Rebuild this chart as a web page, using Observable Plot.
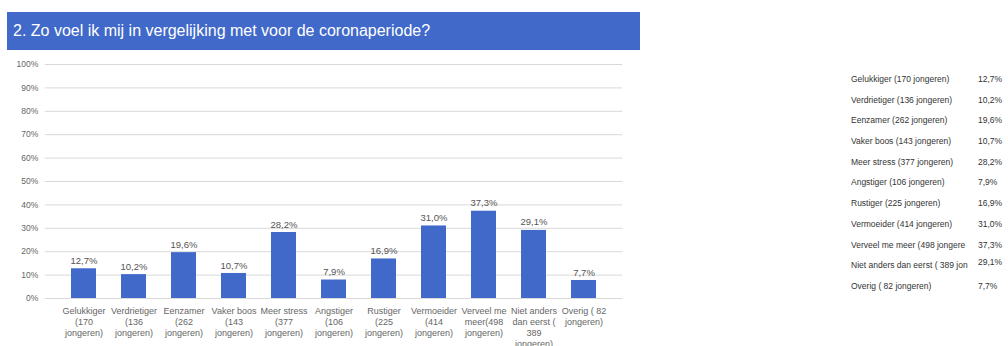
<!DOCTYPE html>
<html>
<head>
<meta charset="utf-8">
<script src="https://cdn.jsdelivr.net/npm/d3@7"></script>
<script src="https://cdn.jsdelivr.net/npm/@observablehq/plot@0.6"></script>
<style>
  html, body { margin: 0; padding: 0; background: #fff; }
  body { width: 1008px; height: 346px; overflow: hidden; position: relative; font-family: "Liberation Sans", Arial, sans-serif; }
  #title { position: absolute; left: 7px; top: 12px; width: 633px; height: 38px; background: #4169c9; color: #fff;
           font-size: 16px; line-height: 38px; padding-left: 6px; box-sizing: border-box; z-index: 2; }
  #chart { position: absolute; left: 0; top: 0; }
  #table { position: absolute; left: 851px; top: 72px; font-size: 8.5px; color: #333; }
  .row { position: relative; height: 20.7px; line-height: 14px; white-space: nowrap; }
  .row .lab { display: inline-block; width: 124px; overflow: hidden; vertical-align: top; }
  .row .val { position: absolute; left: 127px; top: 0; }
  .row.raised .val { top: -3px; }
</style>
</head>
<body>
<div id="title">2. Zo voel ik mij in vergelijking met voor de coronaperiode?</div>
<div id="chart"></div>
<div id="table"></div>
<script>
const categories = ["Gelukkiger", "Verdrietiger", "Eenzamer", "Vaker boos", "Meer stress", "Angstiger", "Rustiger", "Vermoeider", "Verveel me meer", "Niet anders dan eerst", "Overig"];
const counts = [170, 136, 262, 143, 377, 106, 225, 414, 498, 389, 82];
const values = [12.7, 10.2, 19.6, 10.7, 28.2, 7.9, 16.9, 31.0, 37.3, 29.1, 7.7];
const axisLabels = [
  "Gelukkiger\n(170\njongeren)",
  "Verdrietiger\n(136\njongeren)",
  "Eenzamer\n(262\njongeren)",
  "Vaker boos\n(143\njongeren)",
  "Meer stress\n(377\njongeren)",
  "Angstiger\n(106\njongeren)",
  "Rustiger\n(225\njongeren)",
  "Vermoeider\n(414\njongeren)",
  "Verveel me\nmeer(498\njongeren)",
  "Niet anders\ndan eerst (\n389\njongeren)",
  "Overig ( 82\njongeren)"
];
const tableLabels = [
  "Gelukkiger (170 jongeren)",
  "Verdrietiger (136 jongeren)",
  "Eenzamer (262 jongeren)",
  "Vaker boos (143 jongeren)",
  "Meer stress (377 jongeren)",
  "Angstiger (106 jongeren)",
  "Rustiger (225 jongeren)",
  "Vermoeider (414 jongeren)",
  "Verveel me meer (498 jongere",
  "Niet anders dan eerst ( 389 jon",
  "Overig ( 82 jongeren)"
];
const yTicks = [0, 10, 20, 30, 40, 50, 60, 70, 80, 90, 100];

const data = categories.map((c, i) => ({cat: c, n: counts[i], v: values[i], axis: axisLabels[i]}));
const fmt = v => v.toFixed(1).replace(".", ",") + "%";

const chart = Plot.plot({
  width: 640,
  height: 346,
  marginLeft: 44.75,
  marginRight: 17.75,
  marginTop: 64,
  marginBottom: 48,
  style: {fontFamily: "Liberation Sans, Arial, sans-serif", background: "transparent"},
  x: {domain: categories, padding: 0.5, label: null, tickSize: 0, tickPadding: 6,
      tickFormat: d => axisLabels[categories.indexOf(d)]},
  y: {domain: [0, 100], ticks: yTicks, label: null, tickSize: 0, tickPadding: 7,
      tickFormat: d => d + "%"},
  marks: [
    Plot.gridY(yTicks, {stroke: "#d9d9d9", strokeOpacity: 1, strokeWidth: 1}),
    Plot.barY(data, {x: "cat", y: "v", fill: "#4169c9"}),
    Plot.text(data, {x: "cat", y: "v", text: d => fmt(d.v), dy: -8, fontSize: 9.5, fill: "#555"}),
    Plot.axisX({tickSize: 0, tickPadding: 7, fontSize: 9, fill: "#666", lineHeight: 1.25,
                tickFormat: d => axisLabels[categories.indexOf(d)], label: null}),
    Plot.axisY({ticks: yTicks, tickSize: 0, tickPadding: 7, fontSize: 8.5, fill: "#666",
                tickFormat: d => d + "%", label: null})
  ]
});
document.getElementById("chart").appendChild(chart);

const table = document.getElementById("table");
data.forEach((d, i) => {
  const row = document.createElement("div");
  row.className = "row" + (i === 9 ? " raised" : "");
  const lab = document.createElement("span");
  lab.className = "lab";
  lab.textContent = tableLabels[i];
  const val = document.createElement("span");
  val.className = "val";
  val.textContent = fmt(d.v);
  row.appendChild(lab);
  row.appendChild(val);
  table.appendChild(row);
});
</script>
</body>
</html>
